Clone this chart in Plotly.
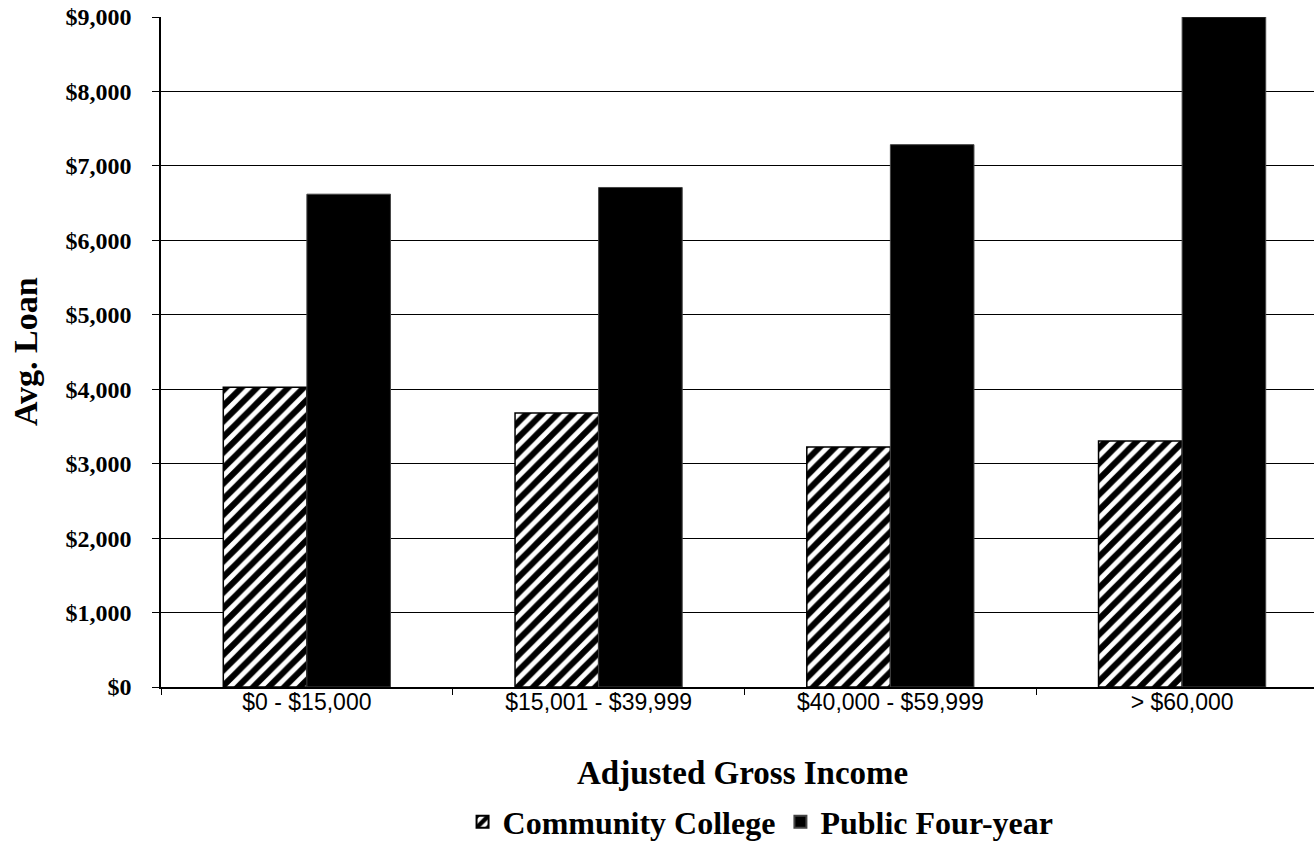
import plotly.graph_objects as go

# Average loan by adjusted gross income bracket
income_brackets = ["$0 - $15,000", "$15,001 - $39,999", "$40,000 - $59,999", "> $60,000"]
community_college = [4025, 3680, 3225, 3305]
public_four_year = [6620, 6710, 7285, 9000]

y_ticks = [0, 1000, 2000, 3000, 4000, 5000, 6000, 7000, 8000, 9000]
y_tick_labels = ["${:,}".format(v) for v in y_ticks]

SERIF = "Liberation Serif"
SANS = "Liberation Sans"

fig = go.Figure()

fig.add_trace(go.Bar(
    name="<b>Community College</b>",
    x=income_brackets,
    y=community_college,
    marker=dict(
        color="white",
        line=dict(color="black", width=1.5),
        pattern=dict(shape="/", size=11, solidity=0.55,
                     fgcolor="black", bgcolor="white", fgopacity=1),
    ),
))

fig.add_trace(go.Bar(
    name="<b>Public Four-year</b>",
    x=income_brackets,
    y=public_four_year,
    marker=dict(color="black", line=dict(color="#444", width=1)),
))

fig.update_layout(
    width=1314,
    height=843,
    margin=dict(l=161, r=0, t=17, b=156, autoexpand=False),
    paper_bgcolor="white",
    plot_bgcolor="white",
    barmode="group",
    bargap=0.427,
    bargroupgap=0,
    showlegend=True,
    legend=dict(
        orientation="h",
        x=0.52,
        xanchor="center",
        yref="container",
        y=0.025,
        yanchor="middle",
        font=dict(family=SERIF, size=32, color="black"),
        bgcolor="rgba(0,0,0,0)",
        traceorder="normal",
        itemsizing="constant",
    ),
    annotations=[
        dict(
            text="<b>Adjusted Gross Income</b>",
            xref="paper", yref="paper",
            x=0.504, y=0, yshift=-86,
            xanchor="center", yanchor="middle",
            showarrow=False,
            font=dict(family=SERIF, size=33, color="black"),
        ),
        dict(
            text="<b>Avg. Loan</b>",
            xref="paper", yref="paper",
            x=0, xshift=-136, y=0.5,
            xanchor="center", yanchor="middle",
            textangle=-90,
            showarrow=False,
            font=dict(family=SERIF, size=34, color="black"),
        ),
    ],
)

fig.update_xaxes(
    type="category",
    range=[-0.5, 3.452],
    showline=True,
    linecolor="black",
    linewidth=1.5,
    ticks="outside",
    tickson="boundaries",
    ticklen=6,
    tickcolor="black",
    tickwidth=1,
    showgrid=False,
    tickfont=dict(family=SANS, size=23, color="black"),
    ticklabelstandoff=-6,
)

fig.update_yaxes(
    range=[0, 9000],
    tickmode="array",
    tickvals=y_ticks,
    ticktext=y_tick_labels,
    showline=True,
    linecolor="black",
    linewidth=1.5,
    ticks="outside",
    ticklen=7,
    tickcolor="black",
    tickwidth=1,
    showgrid=True,
    gridcolor="black",
    gridwidth=1,
    zeroline=False,
    tickfont=dict(family=SERIF, size=24, color="black", weight="bold"),
    ticklabelstandoff=16,
)

fig.write_html("out.html")
